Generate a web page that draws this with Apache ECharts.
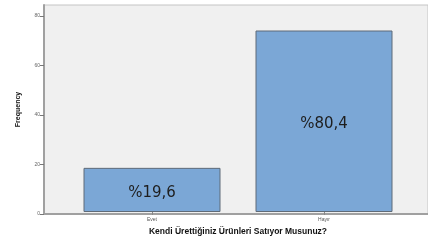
<!DOCTYPE html>
<html>
<head>
<meta charset="utf-8">
<script src="https://cdn.jsdelivr.net/npm/echarts@6/dist/echarts.min.js"></script>
<style>html,body{margin:0;padding:0;background:#fff}#c{width:428px;height:241px}</style>
</head>
<body>
<div id="c"></div>
<script>
const categories = ['Evet', 'Hayır'];
const frequencies = [18, 74];
const percentLabels = ['%19,6', '%80,4'];
const yTicks = [0, 20, 40, 60, 80];
const xTitle = 'Kendi Ürettiğiniz Ürünleri Satıyor Musunuz?';
const yTitle = 'Frequency';

const chart = echarts.init(document.getElementById('c'), null, {renderer: 'canvas'});
const yMax = 84.4;
chart.setOption({
  animation: false,
  backgroundColor: '#ffffff',
  grid: [
    {left: 44, right: -2, top: 5, bottom: 27, show: true, backgroundColor: '#f0f0f0', borderColor: '#c4c4c4', borderWidth: 1},
    {left: 66, right: 18, top: 5, bottom: 27}
  ],
  xAxis: [
    {gridIndex: 0, type: 'value', min: 0, max: 1, axisLine: {show: true, onZero: false, lineStyle: {color: '#a0a0a0', width: 2}},
     axisTick: {show: false}, axisLabel: {show: false}, splitLine: {show: false}},
    {gridIndex: 1, type: 'category', data: categories,
     axisLine: {show: false}, axisTick: {show: true, alignWithLabel: true, length: 3, lineStyle: {color: '#888', width: 1}},
     axisLabel: {fontSize: 5, color: '#555', margin: 5, fontFamily: 'Liberation Sans'},
     name: xTitle, nameLocation: 'middle', nameGap: 15,
     nameTextStyle: {fontSize: 8.5, fontWeight: 'bold', color: '#111', fontFamily: 'Liberation Sans'}}
  ],
  yAxis: [
    {gridIndex: 0, type: 'value', min: 0, max: yMax,
     axisLine: {show: true, lineStyle: {color: '#a0a0a0', width: 2}},
     axisTick: {show: true, length: 4, customValues: yTicks, lineStyle: {color: '#777'}},
     axisLabel: {customValues: yTicks, fontSize: 5, color: '#666', margin: 4, fontFamily: 'Liberation Sans'},
     splitLine: {show: false},
     name: yTitle, nameLocation: 'middle', nameGap: 22, nameRotate: 90,
     nameTextStyle: {fontSize: 7, fontWeight: 'bold', color: '#111', fontFamily: 'Liberation Sans'}},
    {gridIndex: 1, type: 'value', min: 0, max: yMax, show: false}
  ],
  series: [{
    type: 'bar', xAxisIndex: 1, yAxisIndex: 1,
    data: frequencies, barWidth: 137,
    itemStyle: {color: '#7ba7d6', borderColor: '#5f6b78', borderWidth: 1},
    label: {show: true, position: 'inside', fontSize: 15, color: '#1e1e1e', fontFamily: 'DejaVu Sans',
      offset: [0, 3], formatter: p => percentLabels[p.dataIndex]}
  }]
});
</script>
</body>
</html>
